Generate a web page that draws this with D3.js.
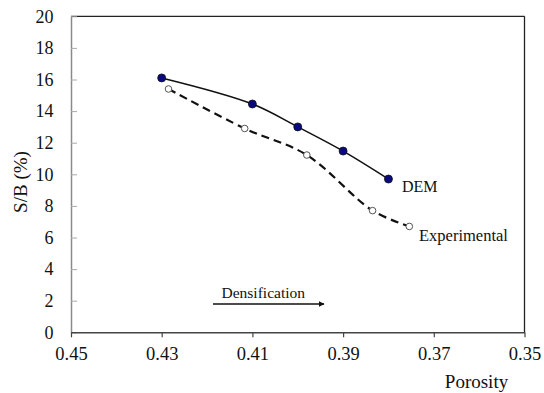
<!DOCTYPE html>
<html>
<head>
<meta charset="utf-8">
<script src="https://cdn.jsdelivr.net/npm/d3@7"></script>
</head>
<body style="margin:0;background:#fff">
<svg id="chart" width="544" height="393" style="display:block"></svg>
<script>
// Strength-to-bulk ratio vs porosity: DEM simulation and experiment
const demPorosity = [0.43, 0.41, 0.40, 0.39, 0.38];
const demSB = [16.1, 14.45, 13.0, 11.47, 9.7];
const expPorosity = [0.4285, 0.4117, 0.398, 0.3835, 0.3754];
const expSB = [15.4, 12.9, 11.22, 7.7, 6.7];
const xTicks = [0.45, 0.43, 0.41, 0.39, 0.37, 0.35];
const yTicks = [0, 2, 4, 6, 8, 10, 12, 14, 16, 18, 20];

const FONT = "'Liberation Serif'";
const svg = d3.select("#chart");
const plotLeft = 71, plotRight = 524.5, plotTop = 16.3, plotBottom = 332.3;

const x = d3.scaleLinear().domain([0.45, 0.35]).range([plotLeft, plotRight]);
const y = d3.scaleLinear().domain([0, 20]).range([plotBottom, plotTop]);

// frame: top and right edges
svg.append("line").attr("x1", plotLeft).attr("x2", plotRight).attr("y1", plotTop).attr("y2", plotTop)
  .attr("stroke", "#222").attr("stroke-width", 1.3);
svg.append("line").attr("x1", plotRight).attr("x2", plotRight).attr("y1", plotTop).attr("y2", plotBottom)
  .attr("stroke", "#222").attr("stroke-width", 1.3);

// y axis: gray line, ticks pointing inward
const yAxis = svg.append("g").attr("transform", `translate(${plotLeft},0)`)
  .call(d3.axisLeft(y).tickValues(yTicks).tickSizeInner(-6).tickSizeOuter(0).tickPadding(17.5).tickFormat(d3.format("d")));
yAxis.select(".domain").attr("stroke", "#8a8a8a").attr("stroke-width", 1.5);
yAxis.selectAll(".tick line").attr("stroke", "#aaa").attr("stroke-width", 1);
yAxis.selectAll(".tick text").style("font-family", FONT).style("font-size", "18px").attr("fill", "#111");

// x axis: ticks pointing outward
const xAxis = svg.append("g").attr("transform", `translate(0,${plotBottom})`)
  .call(d3.axisBottom(x).tickValues(xTicks).tickSizeInner(5).tickSizeOuter(0).tickPadding(10).tickFormat(d3.format(".2f")));
xAxis.select(".domain").attr("stroke", "#444").attr("stroke-width", 1.4);
xAxis.selectAll(".tick line").attr("stroke", "#444").attr("stroke-width", 1.2);
xAxis.selectAll(".tick text").style("font-family", FONT).style("font-size", "18.5px").attr("fill", "#111");

// axis titles
svg.append("text").attr("x", 476.5).attr("y", 388).attr("text-anchor", "middle")
  .style("font-family", FONT).style("font-size", "19px").attr("fill", "#111").text("Porosity");
svg.append("text").attr("transform", "translate(27,182) rotate(-90)").attr("text-anchor", "middle")
  .style("font-family", FONT).style("font-size", "19px").attr("fill", "#111").text("S/B (%)");

const line = d3.line().curve(d3.curveCatmullRom.alpha(0.5));

const demPts = demPorosity.map((p, i) => [x(p), y(demSB[i])]);
const expPts = expPorosity.map((p, i) => [x(p), y(expSB[i])]);

svg.append("path").attr("d", line(expPts)).attr("fill", "none")
  .attr("stroke", "#111").attr("stroke-width", 2.2).attr("stroke-dasharray", "8,5");
svg.append("path").attr("d", line(demPts)).attr("fill", "none")
  .attr("stroke", "#111").attr("stroke-width", 1.5);

svg.selectAll(".exp").data(expPts).enter().append("circle")
  .attr("cx", d => d[0]).attr("cy", d => d[1]).attr("r", 3.3)
  .attr("fill", "#fff").attr("stroke", "#555").attr("stroke-width", 1);
svg.selectAll(".dem").data(demPts).enter().append("circle")
  .attr("cx", d => d[0]).attr("cy", d => d[1]).attr("r", 4)
  .attr("fill", "#0a0a80").attr("stroke", "#111").attr("stroke-width", 0.8);

// series labels
svg.append("text").attr("x", 402).attr("y", 192).style("font-family", FONT).style("font-size", "16px")
  .attr("fill", "#111").text("DEM");
svg.append("text").attr("x", 419).attr("y", 241).style("font-family", FONT).style("font-size", "16.5px")
  .attr("fill", "#111").text("Experimental");

// densification arrow
svg.append("defs").append("marker").attr("id", "arrow")
  .attr("viewBox", "0 0 10 10").attr("refX", 9).attr("refY", 5)
  .attr("markerWidth", 4).attr("markerHeight", 4).attr("orient", "auto")
  .append("path").attr("d", "M0,0 L10,5 L0,10 Z").attr("fill", "#111");
svg.append("line").attr("x1", 213).attr("x2", 324).attr("y1", 304).attr("y2", 304)
  .attr("stroke", "#111").attr("stroke-width", 1.5).attr("marker-end", "url(#arrow)");
svg.append("text").attr("x", 221.5).attr("y", 298).style("font-family", FONT).style("font-size", "15.5px")
  .attr("fill", "#111").text("Densification");
</script>
</body>
</html>
